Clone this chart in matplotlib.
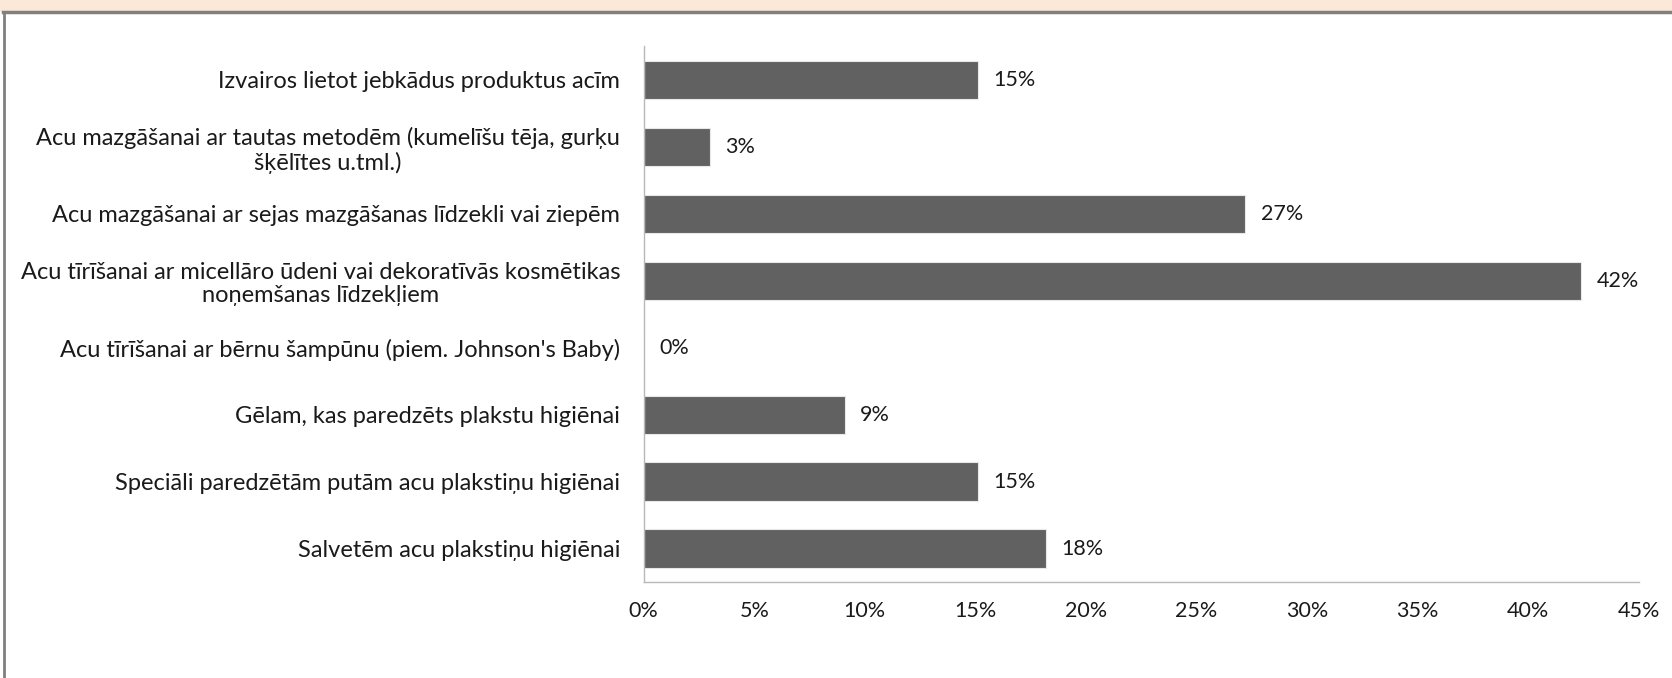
import matplotlib
matplotlib.use("Agg")
import matplotlib.pyplot as plt
from matplotlib.patches import Rectangle
from matplotlib.lines import Line2D

categories = [
    "Izvairos lietot jebkādus produktus acīm",
    "Acu mazgāšanai ar tautas metodēm (kumelīšu tēja, gurķu\nšķēlītes u.tml.)",
    "Acu mazgāšanai ar sejas mazgāšanas līdzekli vai ziepēm",
    "Acu tīrīšanai ar micellāro ūdeni vai dekoratīvās kosmētikas\nnoņemšanas līdzekļiem",
    "Acu tīrīšanai ar bērnu šampūnu (piem. Johnson's Baby)",
    "Gēlam, kas paredzēts plakstu higiēnai",
    "Speciāli paredzētām putām acu plakstiņu higiēnai",
    "Salvetēm acu plakstiņu higiēnai",
]
values = [15.1, 3.0, 27.2, 42.4, 0.0, 9.1, 15.1, 18.2]
xticks = [0, 5, 10, 15, 20, 25, 30, 35, 40, 45]

plt.rcParams['font.family'] = ['Lato', 'DejaVu Sans']

fig = plt.figure(figsize=(16.72, 6.78), dpi=100)
fig.patch.set_facecolor('white')

# peach strip and frame lines of the slide
fig.patches.append(Rectangle((0, 0.983), 1, 0.017, transform=fig.transFigure,
                             facecolor='#FAE8D8', edgecolor='none', zorder=0))
fig.lines.append(Line2D([0.002, 1], [0.982, 0.982], transform=fig.transFigure,
                        color='#808080', lw=2.5))
fig.lines.append(Line2D([0.0025, 0.0025], [0, 0.982], transform=fig.transFigure,
                        color='#808080', lw=2))

ax = fig.add_axes([0.385, 0.1416, 0.595, 0.79])

y = list(range(len(categories)))
ax.barh(y, values, height=0.57, color='#616161', edgecolor='#e8e8e8', linewidth=0.8)
ax.set_ylim(len(categories) - 0.5, -0.5)
ax.set_xlim(0, 45)

for yi, v in zip(y, values):
    ax.text(v + 0.7, yi, f"{round(v):.0f}%", va='center', ha='left',
            fontsize=15.5, color='#1a1a1a')

ax.set_yticks(y)
ax.set_yticklabels(categories, fontsize=17, color='#1a1a1a', linespacing=1.15)
for lbl in ax.get_yticklabels():
    lbl.set_multialignment('center')
ax.set_xticks(xticks)
ax.set_xticklabels([f"{t}%" for t in xticks], fontsize=15.5, color='#1a1a1a')
ax.tick_params(axis='y', length=0, pad=17)
ax.tick_params(axis='x', length=0, pad=14)

for s in ['top', 'right']:
    ax.spines[s].set_visible(False)
ax.spines['left'].set_color('#b8b8b8')
ax.spines['bottom'].set_color('#b8b8b8')
ax.spines['left'].set_linewidth(1)
ax.spines['bottom'].set_linewidth(1)

fig.savefig('out.png', dpi=100)
